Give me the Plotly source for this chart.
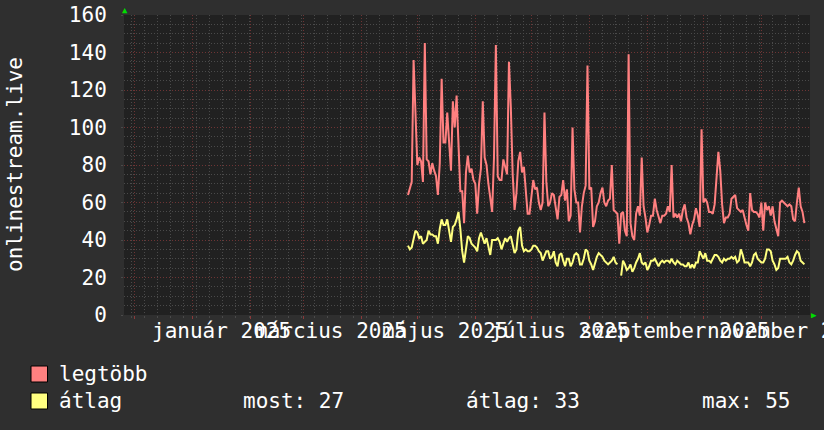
import pandas as pd
import plotly.graph_objects as go

# daily values, first day 2025-04-26
start_day = '2025-04-26'
legtobb = [
    64, 68, 71, 136, 102, 80, 84, 82, 71, 145, 83, 82, 75, 81, 77, 74, 64, 81, 126, 92,
    92, 108, 92, 77, 114, 100, 117, 90, 66, 66, 49, 76, 85, 76, 78, 72, 70, 54, 70, 78,
    114, 84, 80, 70, 62, 55, 84, 144, 74, 72, 72, 83, 79, 75, 135, 111, 75, 56, 65, 82,
    87, 76, 79, 65, 54, 54, 62, 72, 67, 68, 60, 56, 60, 108, 71, 58, 60, 65, 64, 58,
    51, 63, 64, 72, 61, 67, 50, 53, 100, 67, 60, 60, 44, 58, 65, 69, 133, 67, 68, 47,
    50, 58, 60, 65, 68, 60, 58, 61, 62, 80, 56, 55, 54, 38, 54, 55, 45, 42, 139, 49,
    42, 40, 54, 58, 53, 84, 58, 52, 44, 48, 53, 53, 62, 56, 52, 49, 53, 53, 54, 58,
    55, 80, 52, 54, 52, 54, 50, 56, 59, 52, 49, 43, 48, 51, 57, 53, 47, 99, 60, 62,
    60, 55, 55, 54, 59, 74, 87, 77, 59, 49, 52, 52, 54, 62, 63, 64, 57, 56, 55, 56,
    51, 48, 45, 65, 56, 55, 55, 54, 52, 60, 45, 60, 56, 58, 53, 58, 50, 46, 42, 60,
    61, 60, 59, 58, 59, 58, 51, 50, 60, 68, 58, 55, 49,
]
atlag = [
    37, 35, 36, 41, 45, 44, 41, 42, 38, 39, 40, 45, 43, 43, 42, 42, 38, 46, 51, 48,
    48, 51, 46, 39, 47, 48, 51, 55, 46, 34, 28, 36, 42, 41, 38, 37, 36, 34, 41, 44,
    41, 38, 41, 36, 32, 40, 40, 40, 41, 39, 35, 38, 41, 39, 41, 42, 38, 33, 35, 45,
    47, 37, 34, 35, 34, 34, 35, 37, 37, 36, 34, 33, 29, 32, 34, 34, 30, 31, 34, 28,
    26, 32, 33, 29, 26, 30, 30, 26, 28, 32, 33, 32, 27, 27, 30, 35, 34, 29, 27, 24,
    28, 31, 33, 32, 31, 29, 28, 27, 28, 29, 31, 28, 27, None, 21, 29, 27, 24, 25, 27,
    23, 25, 28, 30, 33, 28, 27, 28, 24, 26, 29, 29, 30, 28, 26, 28, 29, 28, 29, 29,
    28, 30, 28, 27, 29, 28, 27, 27, 26, 26, 28, 25, 27, 25, 28, 28, 34, 32, 30, 33,
    29, 29, 28, 30, 32, 32, 31, 29, 28, 30, 29, 30, 30, 31, 30, 31, 28, 29, 35, 32,
    28, 28, 28, 26, 28, 32, 33, 30, 29, 28, 28, 30, 35, 35, 34, 29, 27, 24, 25, 30,
    30, 30, 30, 31, 28, 27, 29, 32, 34, 33, 29, 28, 27,
]
month_starts = pd.date_range('2024-12-01', '2025-11-01', freq='MS')
label_days = ['2025-01-16', '2025-03-16', '2025-05-16', '2025-07-16', '2025-09-16', '2025-11-16']
label_text = ['január 2025', 'március 2025', 'május 2025', 'július 2025',
              'szeptember 2025', 'november 2025']
stats = {'most': 27, 'átlag': 33, 'max': 55}

days = pd.date_range(start_day, periods=len(legtobb), freq='D')

W, H = 824, 430
L, R, T, B = 124, 14, 15, 115
FONT = 'DejaVu Sans Mono'
FS = 21
TXT = '#ffffff'
MAJOR = '#6e3434'
MINOR = '#4a4a4a'


def px_x(px):
    return (px - L) / (W - L - R)


def px_y(py):
    return (H - B - py) / (H - T - B)


fig = go.Figure()
fig.add_trace(go.Scatter(x=days, y=legtobb, mode='lines', name='legtöbb',
                         line=dict(color='#ff8080', width=2)))
fig.add_trace(go.Scatter(x=days, y=atlag, mode='lines', name='átlag',
                         line=dict(color='#ffff80', width=2)))

x_range = ['2024-11-25 03:00', '2025-11-27 00:00']
fig.update_layout(
    width=W, height=H, margin=dict(l=L, r=R, t=T, b=B),
    paper_bgcolor='#2f2f2f', plot_bgcolor='#212121',
    showlegend=False,
    font=dict(family=FONT, size=FS, color=TXT),
    xaxis=dict(
        range=x_range, type='date',
        tickmode='array', tickvals=month_starts, ticktext=[''] * len(month_starts),
        ticks='outside', ticklen=3, tickcolor='#8a3a3a',
        showgrid=True, gridcolor=MAJOR, griddash='1px,2px', gridwidth=1,
        zeroline=False, showline=False, automargin=False,
        minor=dict(tick0='2024-12-06', dtick=7 * 86400000, showgrid=True,
                   gridcolor=MINOR, griddash='1px,2px', gridwidth=1,
                   ticks='outside', ticklen=2, tickcolor=MINOR),
    ),
    yaxis=dict(
        range=[0, 160], dtick=20, tick0=0,
        showgrid=True, gridcolor=MAJOR, griddash='1px,2px', gridwidth=1,
        zeroline=False, showline=False, automargin=False,
        ticks='outside', ticklen=2, tickcolor=MINOR,
        ticklabelstandoff=10,
        tickfont=dict(family=FONT, size=FS, color=TXT),
        minor=dict(dtick=5, showgrid=True, gridcolor=MINOR,
                   griddash='1px,2px', gridwidth=1),
    ),
)

# month labels, centred in their month like rrdtool does
for d, t in zip(label_days, label_text):
    fig.add_annotation(text=t, xref='x', yref='paper', x=d, y=px_y(331),
                       showarrow=False, xanchor='center', yanchor='middle',
                       font=dict(family=FONT, size=FS, color=TXT))

# y-axis title
fig.add_annotation(text='onlinestream.live', xref='paper', yref='paper',
                   x=px_x(15), y=0.5, textangle=-90, showarrow=False,
                   xanchor='center', yanchor='middle',
                   font=dict(family=FONT, size=FS, color=TXT))

# rrdtool style axis arrows
fig.add_annotation(text='▲', xref='paper', yref='paper', x=px_x(125), y=px_y(10),
                   showarrow=False, xanchor='center', yanchor='middle',
                   font=dict(size=9, color='#00dd00'))
fig.add_annotation(text='▶', xref='paper', yref='paper', x=px_x(814), y=px_y(315),
                   showarrow=False, xanchor='center', yanchor='middle',
                   font=dict(size=9, color='#00dd00'))

# legend
for name, color, py in [('legtöbb', '#ff8080', 374), ('átlag', '#ffff80', 401)]:
    fig.add_shape(type='rect', xref='paper', yref='paper',
                  x0=px_x(31), x1=px_x(47.5), y0=px_y(py - 8), y1=px_y(py + 8),
                  fillcolor=color, line=dict(color='#000000', width=1))
    fig.add_annotation(text=name, xref='paper', yref='paper', x=px_x(57), y=px_y(py),
                       showarrow=False, xanchor='left', yanchor='middle',
                       font=dict(family=FONT, size=FS, color=TXT))

for (key, val), px in zip(stats.items(), [241, 464, 700]):
    fig.add_annotation(text=f'{key}: {val}', xref='paper', yref='paper',
                       x=px_x(px), y=px_y(401), showarrow=False,
                       xanchor='left', yanchor='middle',
                       font=dict(family=FONT, size=FS, color=TXT))

fig.write_html('out.html', config={'displayModeBar': False},
               post_script="document.body.style.margin='0';")
